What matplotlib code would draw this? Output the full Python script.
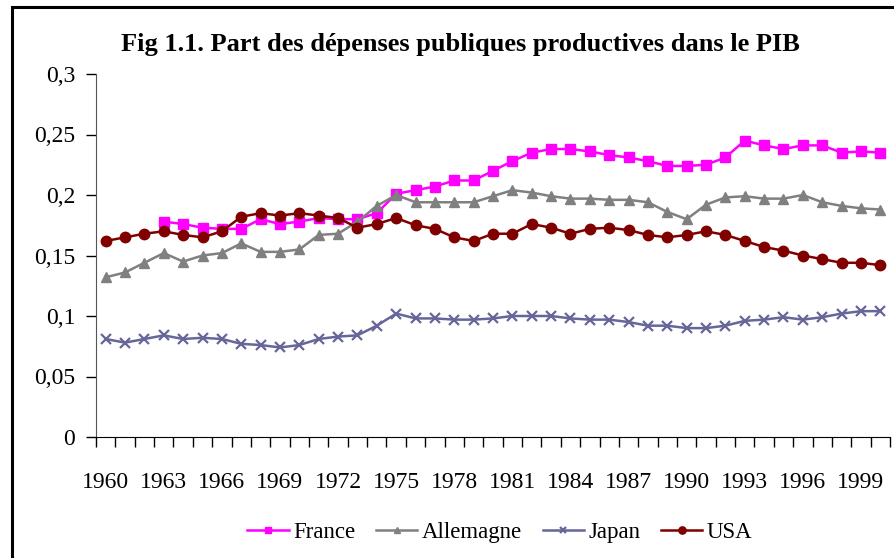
"""
Part des depenses publiques productives dans le PIB, 1960-2000.
"""
import numpy as np
import matplotlib
matplotlib.use("Agg")
import matplotlib.pyplot as plt
from matplotlib.patches import Rectangle

years = list(range(1960, 2001))

france = [np.nan, np.nan, np.nan,
          0.178, 0.176, 0.173, 0.172, 0.172, 0.180, 0.176, 0.178, 0.181, 0.180,
          0.180, 0.185, 0.201, 0.204, 0.207, 0.212, 0.212, 0.220, 0.228, 0.235,
          0.238, 0.238, 0.236, 0.233, 0.231, 0.228, 0.224, 0.224, 0.225, 0.231,
          0.245, 0.241, 0.238, 0.241, 0.241, 0.235, 0.236, 0.235]
allemagne = [0.132, 0.136, 0.144, 0.152, 0.145, 0.150, 0.152, 0.160, 0.153, 0.153,
             0.155, 0.167, 0.168, 0.178, 0.191, 0.200, 0.194, 0.194, 0.194, 0.194,
             0.199, 0.204, 0.202, 0.199, 0.197, 0.197, 0.196, 0.196, 0.194, 0.186,
             0.180, 0.192, 0.198, 0.199, 0.197, 0.197, 0.200, 0.194, 0.191, 0.189,
             0.188]
japan = [0.081, 0.078, 0.081, 0.084, 0.081, 0.082, 0.081, 0.077, 0.076, 0.074,
         0.076, 0.081, 0.083, 0.084, 0.092, 0.102, 0.098, 0.098, 0.097, 0.097,
         0.098, 0.100, 0.100, 0.100, 0.098, 0.097, 0.097, 0.095, 0.092, 0.092,
         0.090, 0.090, 0.092, 0.096, 0.097, 0.099, 0.097, 0.099, 0.102, 0.104,
         0.104]
usa = [0.162, 0.165, 0.168, 0.170, 0.167, 0.165, 0.170, 0.182, 0.185, 0.183,
       0.185, 0.183, 0.181, 0.173, 0.176, 0.181, 0.175, 0.172, 0.165, 0.162,
       0.168, 0.168, 0.176, 0.173, 0.168, 0.172, 0.173, 0.171, 0.167, 0.165,
       0.167, 0.170, 0.167, 0.162, 0.157, 0.154, 0.150, 0.147, 0.144, 0.144,
       0.142]

labels = ["France", "Allemagne", "Japan", "USA"]
yticks = [0, 0.05, 0.1, 0.15, 0.2, 0.25, 0.3]
ytick_labels = ["0", "0,05", "0,1", "0,15", "0,2", "0,25", "0,3"]

plt.rcParams["font.family"] = ["Liberation Serif", "DejaVu Serif"]

W, H = 895, 558
fig = plt.figure(figsize=(W / 100, H / 100), dpi=100)

# outer chart frame (right and bottom run off the image)
fig.patches.append(Rectangle((12 / W, -0.05), 1.2, (H - 7) / H + 0.05,
                             transform=fig.transFigure, fill=False,
                             edgecolor="black", linewidth=2.2))

ax = fig.add_axes([96 / W, (H - 437) / H, 794 / W, (437 - 74) / H])
x = np.arange(len(years))

ax.plot(x, france, color="#FF00FF", marker="s", markersize=7, lw=1.8, label=labels[0])
ax.plot(x, allemagne, color="#808080", marker="^", markersize=7, lw=1.8, label=labels[1])
ax.plot(x, japan, color="#666699", marker="x", markersize=7, mew=1.6, lw=1.8, label=labels[2])
ax.plot(x, usa, color="#800000", marker="o", markersize=7.5, lw=1.8, label=labels[3])

ax.set_xlim(-0.5, len(years) - 0.5)
ax.set_ylim(0, 0.3)
ax.set_yticks(yticks)
ax.set_yticklabels(ytick_labels)

ax.set_xticks(x[::3])
ax.set_xticklabels([str(y) for y in years[::3]])
ax.set_xticks(np.arange(-0.5, len(years)), minor=True)
ax.tick_params(axis="x", which="major", length=0, pad=25, labelsize=17)
ax.tick_params(axis="x", which="minor", length=7, direction="out", width=1)
ax.tick_params(axis="y", length=7, pad=8, labelsize=17, width=1)

for side in ("top", "right"):
    ax.spines[side].set_visible(False)
ax.spines["left"].set_color("#555555")

fig.text(460 / W, 1 - 45 / H,
         "Fig 1.1. Part des dépenses publiques productives dans le PIB",
         ha="center", va="center", fontsize=19, fontweight="bold")

fig.legend(loc="center", bbox_to_anchor=(500 / W, 1 - 532 / H), ncol=4,
           frameon=False, fontsize=16.5, handlelength=1.8, handletextpad=0.2,
           columnspacing=0.9, markerscale=0.7)

fig.savefig("out.png", dpi=100)
